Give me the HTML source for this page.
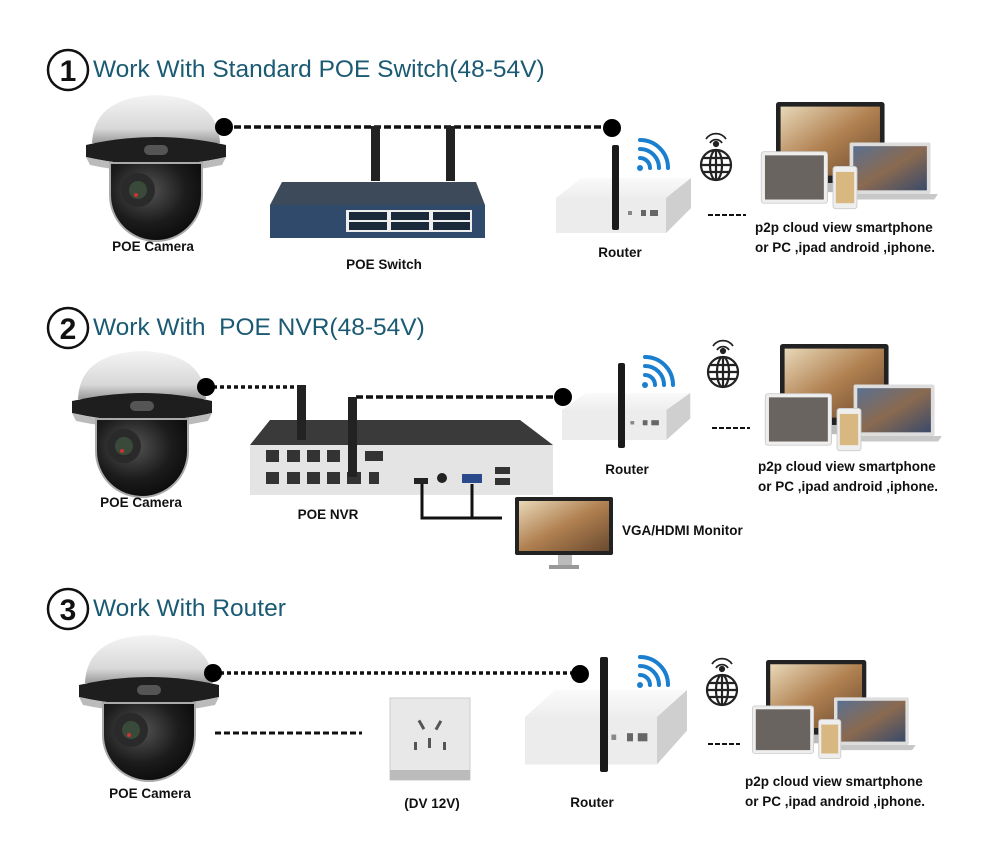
<!DOCTYPE html>
<html><head><meta charset="utf-8"><style>
html,body{margin:0;padding:0;background:#fff;}
svg{display:block;}
text{font-family:"Liberation Sans",sans-serif;}
.l{font-size:13.5px;font-weight:bold;fill:#111;}
.t{font-size:24.5px;fill:#1b5a73;}
</style></head><body>
<svg width="999" height="852" viewBox="0 0 999 852" xmlns="http://www.w3.org/2000/svg">
<defs>
<linearGradient id="cap" x1="0" y1="0" x2="0" y2="1"><stop offset="0" stop-color="#f4f4f4"/><stop offset="0.7" stop-color="#d8d8d8"/><stop offset="1" stop-color="#9a9a9a"/></linearGradient>
<radialGradient id="dome" cx="0.4" cy="0.35" r="0.7"><stop offset="0" stop-color="#555"/><stop offset="0.6" stop-color="#1c1c1c"/><stop offset="1" stop-color="#0a0a0a"/></radialGradient>
<linearGradient id="scr" x1="0" y1="0" x2="1" y2="1"><stop offset="0" stop-color="#e8d8b8"/><stop offset="0.5" stop-color="#b08050"/><stop offset="1" stop-color="#6a4a30"/></linearGradient>
<linearGradient id="scr2" x1="0" y1="0" x2="1" y2="1"><stop offset="0" stop-color="#5a7090"/><stop offset="0.5" stop-color="#8a6a50"/><stop offset="1" stop-color="#3a4a6a"/></linearGradient>
<linearGradient id="rt" x1="0" y1="0" x2="0" y2="1"><stop offset="0" stop-color="#fafafa"/><stop offset="1" stop-color="#d8d8d8"/></linearGradient>
<g id="cam">
  <path d="M12,48 Q14,2 76,0 Q138,2 140,48 Z" fill="url(#cap)"/>
  <path d="M6,50 Q76,34 146,50 L146,62 Q76,78 6,62 Z" fill="#1e1e1e"/>
  <path d="M6,62 Q76,78 146,62 L142,70 Q76,84 10,70 Z" fill="#bbb"/>
  <rect x="64" y="50" width="24" height="10" rx="5" fill="#555"/>
  <path d="M30,68 L122,68 L122,100 A46,46 0 0 1 30,100 Z" fill="url(#dome)"/>
  <path d="M30,68 L122,68 L122,100 A46,46 0 0 1 30,100 Z" fill="none" stroke="#aaa" stroke-width="2"/>
  <circle cx="58" cy="95" r="17" fill="#2a2a2a"/><circle cx="58" cy="95" r="9" fill="#3a4a3a"/><circle cx="56" cy="100" r="2" fill="#c33"/>
</g>
<g id="router">
  <path d="M0,20 L25,0 L135,0 L135,30 L110,55 L0,55 Z" fill="url(#rt)"/>
  <path d="M0,20 L110,20 L110,55 L0,55 Z" fill="#ececec"/>
  <path d="M110,20 L135,0 L135,30 L110,55 Z" fill="#cfcfcf"/>
  <rect x="85" y="32" width="5" height="6" fill="#666"/><rect x="94" y="32" width="8" height="6" fill="#666"/><rect x="72" y="33" width="4" height="4" fill="#888"/>
</g>
<g id="wifi" fill="none" stroke="#1b7fd0" stroke-width="4" stroke-linecap="round">
  <circle cx="0" cy="0" r="3" fill="#1b7fd0" stroke="none"/>
  <path d="M0,-10 A10,10 0 0 1 10,0"/><path d="M0,-19 A19,19 0 0 1 19,0"/><path d="M0,-28 A28,28 0 0 1 28,0"/>
</g>
<g id="globe" fill="none" stroke="#222" stroke-width="2.2">
  <circle cx="0" cy="0" r="15"/><ellipse cx="0" cy="0" rx="6" ry="15"/>
  <line x1="-15" y1="0" x2="15" y2="0"/><line x1="-13" y1="-7" x2="13" y2="-7"/><line x1="-13" y1="7" x2="13" y2="7"/><line x1="0" y1="-15" x2="0" y2="15"/>
  <path d="M-6,-22 A7,7 0 0 1 6,-22" stroke-width="1.8"/><path d="M-10,-26 A12,12 0 0 1 10,-26" stroke-width="1.8"/><circle cx="0" cy="-21" r="2" fill="#222"/>
</g>
<g id="dev">
  <rect x="0" y="0" width="118" height="88" rx="3" fill="#222"/>
  <rect x="5" y="5" width="108" height="75" fill="url(#scr)"/>
  <rect x="50" y="88" width="18" height="10" fill="#bbb"/>
  <rect x="80" y="44" width="88" height="56" rx="2" fill="#ddd"/>
  <rect x="84" y="48" width="80" height="48" fill="url(#scr2)"/>
  <path d="M74,100 L176,100 L172,106 L78,106 Z" fill="#c8c8c8"/>
  <rect x="-16" y="54" width="72" height="56" rx="3" fill="#eee" stroke="#ccc"/>
  <rect x="-12" y="58" width="64" height="48" fill="#6a6460"/>
  <rect x="62" y="70" width="26" height="46" rx="3" fill="#eee" stroke="#ccc"/>
  <rect x="65" y="76" width="20" height="34" fill="#d8b880"/>
</g>
</defs>

<!-- Section 1 -->
<circle cx="68" cy="70" r="20" fill="none" stroke="#111" stroke-width="2.5"/>
<text x="68" y="81" font-size="30" font-weight="bold" text-anchor="middle" fill="#111">1</text>
<text x="93" y="77" class="t">Work With Standard POE Switch(48-54V)</text>
<use href="#cam" x="80" y="95"/>
<text x="153" y="251" class="l" text-anchor="middle">POE Camera</text>
<line x1="224" y1="127" x2="612" y2="127" stroke="#111" stroke-width="3.5" stroke-dasharray="7,3"/>
<circle cx="224" cy="127" r="9" fill="#000"/><circle cx="612" cy="128" r="9" fill="#000"/>
<rect x="371" y="126" width="9" height="55" fill="#222"/><rect x="446" y="126" width="9" height="55" fill="#222"/>
<path d="M270,205 L282,182 L476,182 L485,205 Z" fill="#3d4a5a"/>
<rect x="270" y="205" width="215" height="33" fill="#2f4a6a"/>
<rect x="346" y="210" width="126" height="22" fill="#eee"/>
<g fill="#1a2a3a"><rect x="349" y="212" width="38" height="8"/><rect x="391" y="212" width="38" height="8"/><rect x="433" y="212" width="37" height="8"/><rect x="349" y="222" width="38" height="8"/><rect x="391" y="222" width="38" height="8"/><rect x="433" y="222" width="37" height="8"/></g>
<text x="384" y="269" class="l" text-anchor="middle">POE Switch</text>
<use href="#router" x="556" y="178"/>
<rect x="612" y="145" width="7" height="85" rx="2" fill="#1a1a1a"/>
<text x="620" y="257" class="l" text-anchor="middle">Router</text>
<use href="#wifi" x="640" y="168"/>
<use href="#globe" x="716" y="165"/>
<line x1="708" y1="215" x2="746" y2="215" stroke="#111" stroke-width="2" stroke-dasharray="5,2"/>
<use href="#dev" transform="translate(776 102) scale(0.92)"/>
<text x="755" y="232" class="l">p2p cloud view smartphone</text>
<text x="755" y="252" class="l">or PC ,ipad android ,iphone.</text>

<!-- Section 2 -->
<circle cx="68" cy="328" r="20" fill="none" stroke="#111" stroke-width="2.5"/>
<text x="68" y="339" font-size="30" font-weight="bold" text-anchor="middle" fill="#111">2</text>
<text x="93" y="335" class="t" xml:space="preserve">Work With  POE NVR(48-54V)</text>
<use href="#cam" x="66" y="351"/>
<text x="141" y="507" class="l" text-anchor="middle">POE Camera</text>
<line x1="206" y1="387" x2="300" y2="387" stroke="#111" stroke-width="3.5" stroke-dasharray="4,3"/>
<circle cx="206" cy="387" r="9" fill="#000"/>
<line x1="356" y1="397" x2="563" y2="397" stroke="#111" stroke-width="3.5" stroke-dasharray="7,3"/>
<circle cx="563" cy="397" r="9" fill="#000"/>
<path d="M250,445 L270,420 L520,420 L553,445 Z" fill="#3a3a3a"/>
<rect x="250" y="445" width="303" height="50" fill="#e4e4e4"/>
<g fill="#333"><rect x="266" y="450" width="13" height="12"/><rect x="287" y="450" width="13" height="12"/><rect x="307" y="450" width="13" height="12"/><rect x="327" y="450" width="13" height="12"/><rect x="266" y="472" width="13" height="12"/><rect x="287" y="472" width="13" height="12"/><rect x="307" y="472" width="13" height="12"/><rect x="327" y="472" width="13" height="12"/><rect x="347" y="472" width="14" height="12"/><rect x="369" y="472" width="10" height="12"/><rect x="365" y="451" width="18" height="10"/><rect x="495" y="467" width="15" height="7"/><rect x="495" y="478" width="15" height="7"/></g>
<rect x="414" y="478" width="14" height="6" fill="#222"/><circle cx="442" cy="478" r="5" fill="#222"/><rect x="462" y="474" width="20" height="9" fill="#2a4a8a"/>
<rect x="297" y="385" width="9" height="55" fill="#222"/><rect x="348" y="397" width="9" height="80" fill="#222"/>
<text x="328" y="519" class="l" text-anchor="middle">POE NVR</text>
<path d="M422,484 L422,518 L502,518 M472,484 L472,518" fill="none" stroke="#111" stroke-width="3"/>
<rect x="515" y="497" width="98" height="58" rx="2" fill="#222"/>
<rect x="519" y="501" width="90" height="50" fill="url(#scr)"/>
<rect x="558" y="555" width="14" height="10" fill="#bbb"/><rect x="549" y="565" width="30" height="4" fill="#999"/>
<text x="622" y="535" class="l">VGA/HDMI Monitor</text>
<use href="#router" transform="translate(562 393) scale(0.95 0.85)"/>
<rect x="618" y="363" width="7" height="85" rx="2" fill="#1a1a1a"/>
<text x="627" y="474" class="l" text-anchor="middle">Router</text>
<use href="#wifi" x="645" y="385"/>
<use href="#globe" x="723" y="372"/>
<line x1="712" y1="428" x2="750" y2="428" stroke="#111" stroke-width="2" stroke-dasharray="5,2"/>
<use href="#dev" transform="translate(780 344) scale(0.92)"/>
<text x="758" y="471" class="l">p2p cloud view smartphone</text>
<text x="758" y="491" class="l">or PC ,ipad android ,iphone.</text>

<!-- Section 3 -->
<circle cx="68" cy="609" r="20" fill="none" stroke="#111" stroke-width="2.5"/>
<text x="68" y="620" font-size="30" font-weight="bold" text-anchor="middle" fill="#111">3</text>
<text x="93" y="616" class="t">Work With Router</text>
<use href="#cam" x="73" y="635"/>
<text x="150" y="798" class="l" text-anchor="middle">POE Camera</text>
<line x1="213" y1="673" x2="580" y2="673" stroke="#111" stroke-width="3.5" stroke-dasharray="4,3"/>
<circle cx="213" cy="673" r="9" fill="#000"/><circle cx="580" cy="674" r="9" fill="#000"/>
<line x1="215" y1="733" x2="362" y2="733" stroke="#111" stroke-width="3" stroke-dasharray="6,3"/>
<rect x="390" y="698" width="80" height="82" fill="#e8e8e8" stroke="#ccc"/>
<rect x="390" y="770" width="80" height="10" fill="#bbb"/>
<g fill="#555"><rect x="420" y="720" width="3" height="10" transform="rotate(-30 421 725)"/><rect x="437" y="720" width="3" height="10" transform="rotate(30 438 725)"/><rect x="428" y="738" width="3" height="10"/><rect x="414" y="742" width="3" height="8"/><rect x="443" y="742" width="3" height="8"/></g>
<text x="432" y="808" class="l" text-anchor="middle">(DV 12V)</text>
<use href="#router" transform="translate(525 690) scale(1.2 1.35)"/>
<rect x="600" y="657" width="8" height="115" rx="2" fill="#1a1a1a"/>
<text x="592" y="807" class="l" text-anchor="middle">Router</text>
<use href="#wifi" x="640" y="685"/>
<use href="#globe" x="722" y="690"/>
<line x1="708" y1="744" x2="740" y2="744" stroke="#111" stroke-width="2" stroke-dasharray="5,2"/>
<use href="#dev" transform="translate(766 660) scale(0.85)"/>
<text x="745" y="786" class="l">p2p cloud view smartphone</text>
<text x="745" y="806" class="l">or PC ,ipad android ,iphone.</text>
</svg>
</body></html>
